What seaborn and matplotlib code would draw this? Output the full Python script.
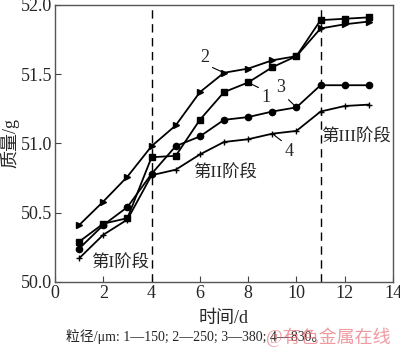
import numpy as np
import pandas as pd
import seaborn as sns
import matplotlib.pyplot as plt

# data
days = [1, 2, 3, 4, 5, 6, 7, 8, 9, 10, 11, 12, 13]
mass_150 = [50.29, 50.42, 50.46, 50.90, 50.91, 51.17, 51.37, 51.44, 51.55, 51.63, 51.89, 51.90, 51.91]
mass_250 = [50.41, 50.58, 50.76, 50.98, 51.13, 51.37, 51.51, 51.54, 51.60, 51.63, 51.83, 51.86, 51.88]
mass_380 = [50.24, 50.41, 50.54, 50.78, 50.98, 51.05, 51.17, 51.19, 51.23, 51.26, 51.42, 51.42, 51.42]
mass_830 = [50.17, 50.34, 50.45, 50.77, 50.81, 50.92, 51.01, 51.03, 51.07, 51.09, 51.23, 51.27, 51.28]
stage_bounds = [4, 11]

sns.set_style("ticks")
plt.rcParams['font.family'] = ['Liberation Serif', 'Noto Sans CJK SC']

dpi = 100
fig = plt.figure(figsize=(4.0, 3.51), dpi=dpi)
ax = fig.add_axes([0.1375, 0.197, 0.845, 0.789])

series = [
    (mass_150, 's', 4.5),
    (mass_250, '>', 4.5),
    (mass_380, 'o', 4.5),
    (mass_830, '+', 5),
]
for vals, mk, ms in series:
    sns.lineplot(x=days, y=vals, marker=mk, markersize=ms, color='black',
                 linewidth=1.3, markeredgecolor='black', markeredgewidth=1.0, ax=ax)

for xb in stage_bounds:
    ax.axvline(xb, color='black', linestyle=(0, (6, 4)), linewidth=1.0)

ax.set_xlim(0, 14)
ax.set_ylim(50.0, 52.0)
ax.set_xticks(np.arange(0, 15, 2))
ax.set_yticks(np.arange(50.0, 52.01, 0.5))
ax.set_yticklabels([f"{v:.1f}" for v in np.arange(50.0, 52.01, 0.5)])
ax.tick_params(direction='in', labelsize=13, length=4, pad=2, color='#444444')
for sp in ax.spines.values():
    sp.set_color('#555555')
    sp.set_linewidth(1.0)

ax.set_xlabel("时间/d", fontsize=13, labelpad=6)
ax.set_ylabel("质量/g", fontsize=13, labelpad=1)

# stage labels
ax.text(2.7, 50.13, "第I阶段", fontsize=12.5, ha='center', va='center')
ax.text(7.05, 50.78, "第II阶段", fontsize=12.5, ha='center', va='center')
ax.text(12.45, 51.04, "第III阶段", fontsize=12.5, ha='center', va='center')

# series leader labels
leader = dict(arrowstyle='-', color='black', lw=0.8, shrinkA=0, shrinkB=2)
ax.annotate("2", xy=(7, 51.51), xytext=(6.2, 51.62), fontsize=13, ha='center', va='center',
            arrowprops=dict(leader, relpos=(1, 0)))
ax.annotate("1", xy=(8, 51.44), xytext=(8.75, 51.33), fontsize=13, ha='center', va='center',
            arrowprops=dict(leader, relpos=(0, 1)))
ax.annotate("3", xy=(10, 51.26), xytext=(9.35, 51.40), fontsize=13, ha='center', va='center',
            arrowprops=dict(leader, relpos=(1, 0)))
ax.annotate("4", xy=(9, 51.07), xytext=(9.7, 50.94), fontsize=13, ha='center', va='center',
            arrowprops=dict(leader, relpos=(0, 1)))

fig.text(0.49, 0.04, "粒径/μm: 1—150; 2—250; 3—380; 4—830。", fontsize=10, ha='center', va='center')
fig.text(0.82, 0.04, "@有色金属在线", fontsize=13, ha='center', va='center',
         color='#e8707a', alpha=0.7)

plt.savefig("out.png", dpi=dpi)
